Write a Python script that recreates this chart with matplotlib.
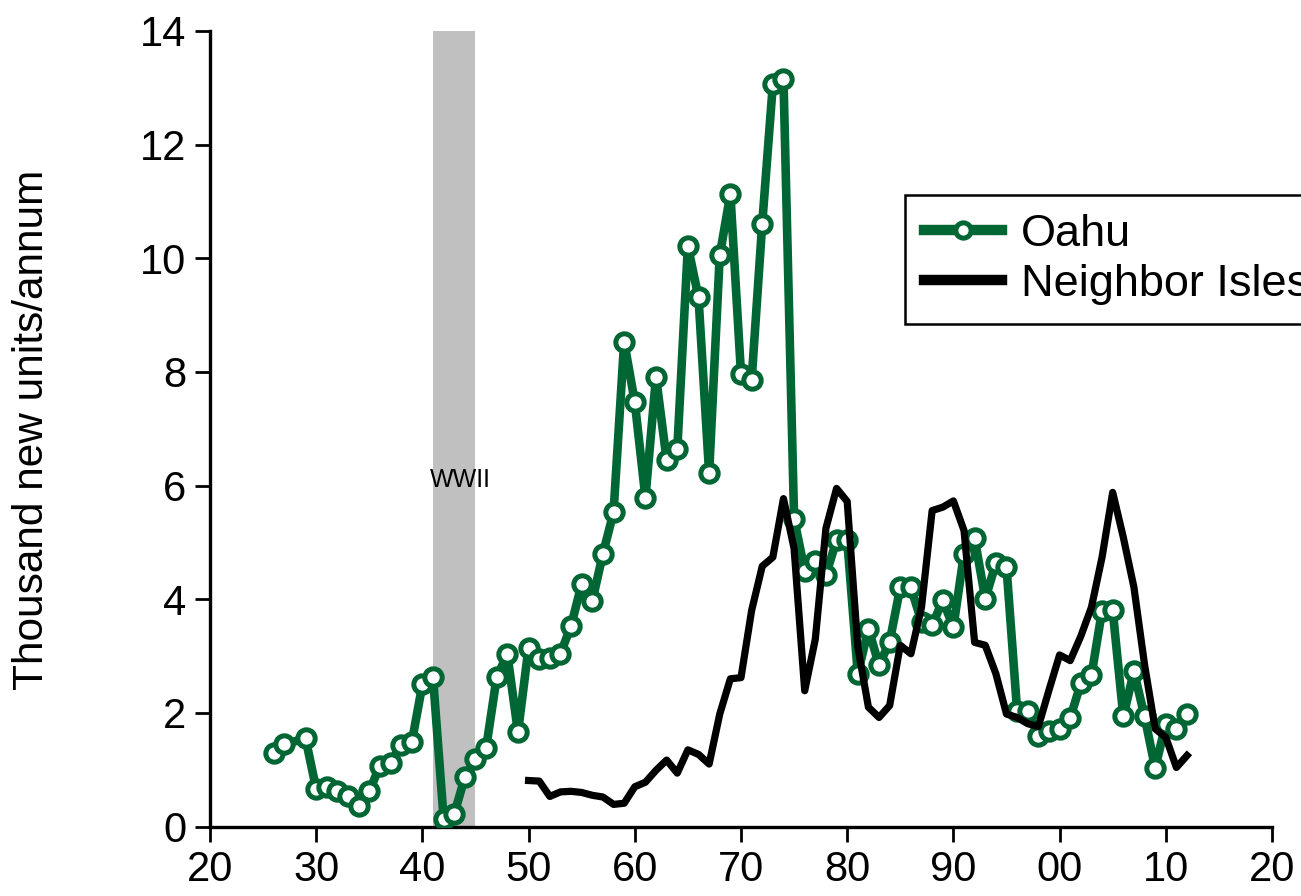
import matplotlib
matplotlib.use("Agg")
import matplotlib.pyplot as plt
import numpy as np

plt.rcParams['font.family'] = ['Liberation Sans', 'DejaVu Sans']

# ---- data ----
oahu_years = [1926, 1927, 1929, 1930, 1931, 1932, 1933, 1934, 1935, 1936, 1937, 1938, 1939,
              1940, 1941, 1942, 1943, 1944, 1945, 1946, 1947, 1948, 1949,
              1950, 1951, 1952, 1953, 1954, 1955, 1956, 1957, 1958, 1959,
              1960, 1961, 1962, 1963, 1964, 1965, 1966, 1967, 1968, 1969,
              1970, 1971, 1972, 1973, 1974, 1975, 1976, 1977, 1978, 1979,
              1980, 1981, 1982, 1983, 1984, 1985, 1986, 1987, 1988, 1989,
              1990, 1991, 1992, 1993, 1994, 1995, 1996, 1997, 1998, 1999,
              2000, 2001, 2002, 2003, 2004, 2005, 2006, 2007, 2008, 2009,
              2010, 2011, 2012]
oahu_values = [1.30, 1.45, 1.55, 0.66, 0.70, 0.63, 0.53, 0.37, 0.62, 1.07, 1.12, 1.43, 1.48,
               2.50, 2.63, 0.14, 0.22, 0.87, 1.19, 1.38, 2.63, 3.03, 1.66,
               3.15, 2.94, 2.97, 3.04, 3.53, 4.27, 3.97, 4.80, 5.53, 8.53,
               7.47, 5.79, 7.91, 6.45, 6.64, 10.21, 9.31, 6.22, 10.05, 11.13,
               7.97, 7.85, 10.61, 13.06, 13.16, 5.42, 4.50, 4.68, 4.43, 5.04,
               5.05, 2.69, 3.48, 2.84, 3.25, 4.21, 4.21, 3.60, 3.54, 3.98,
               3.51, 4.80, 5.07, 4.01, 4.63, 4.57, 2.04, 2.04, 1.60, 1.69,
               1.72, 1.91, 2.52, 2.66, 3.80, 3.81, 1.94, 2.73, 1.94, 1.03,
               1.81, 1.72, 1.98]

ni_years = list(range(1950, 2013))
ni_values = [0.81, 0.80, 0.53, 0.61, 0.62, 0.60, 0.55, 0.52, 0.39, 0.41,
             0.70, 0.78, 0.99, 1.17, 0.94, 1.35, 1.27, 1.10, 1.98, 2.60,
             2.62, 3.80, 4.58, 4.74, 5.77, 4.89, 2.39, 3.30, 5.25, 5.95,
             5.72, 3.16, 2.10, 1.92, 2.13, 3.19, 3.04, 3.86, 5.56, 5.62,
             5.73, 5.21, 3.24, 3.19, 2.69, 1.98, 1.92, 1.81, 1.76, 2.40,
             3.02, 2.92, 3.35, 3.86, 4.74, 5.88, 5.09, 4.21, 2.85, 1.72,
             1.57, 1.04, 1.25]

x_ticks = [1920, 1930, 1940, 1950, 1960, 1970, 1980, 1990, 2000, 2010, 2020]
x_tick_labels = ['20', '30', '40', '50', '60', '70', '80', '90', '00', '10', '20']
y_ticks = [0, 2, 4, 6, 8, 10, 12, 14]

ww2_start, ww2_end = 1941, 1945

green = '#006633'

fig = plt.figure(figsize=(13.01, 8.96), dpi=100)
ax = fig.add_axes([0.1614, 0.0775, 0.8163, 0.888])

ax.axvspan(ww2_start, ww2_end, color='#C0C0C0', lw=0, zorder=1)
ax.text((ww2_start + ww2_end) / 2 + 0.6, 6.1, 'WWII', ha='center', va='center',
        fontsize=18, zorder=2)

ax.plot(oahu_years, oahu_values, color=green, lw=6.2, marker='o', ms=12.5,
        mfc='white', mec=green, mew=3.6, label='Oahu', zorder=3)
ax.plot(ni_years, ni_values, color='black', lw=5.2, label='Neighbor Isles', zorder=4)

ax.set_xlim(1920, 2020)
ax.set_ylim(0, 14)
ax.set_xticks(x_ticks)
ax.set_xticklabels(x_tick_labels)
ax.set_yticks(y_ticks)

for s in ['top', 'right']:
    ax.spines[s].set_visible(False)
for s in ['left', 'bottom']:
    ax.spines[s].set_linewidth(2.4)
ax.tick_params(axis='both', direction='out', length=11, width=2, labelsize=30)
ax.tick_params(axis='y', pad=6)
ax.tick_params(axis='x', pad=6)

fig.text(32 / 1301, 1 - 430 / 896, 'Thousand new units/annum', rotation=90,
         ha='center', va='center', fontsize=30.5)

leg = ax.legend(loc='upper left', bbox_to_anchor=(905 / 1301, 1 - 195 / 896),
                bbox_transform=fig.transFigure, borderaxespad=0, fontsize=32.5,
                frameon=True, fancybox=False, framealpha=1, edgecolor='black',
                handlelength=1.72, handletextpad=0.42, borderpad=0.42,
                labelspacing=0.2)
leg.get_frame().set_linewidth(1.8)
for ln in leg.get_lines():
    ln.set_linewidth(7.5)
leg.get_lines()[0].set_markersize(11)

fig.savefig('out.png', dpi=100)
